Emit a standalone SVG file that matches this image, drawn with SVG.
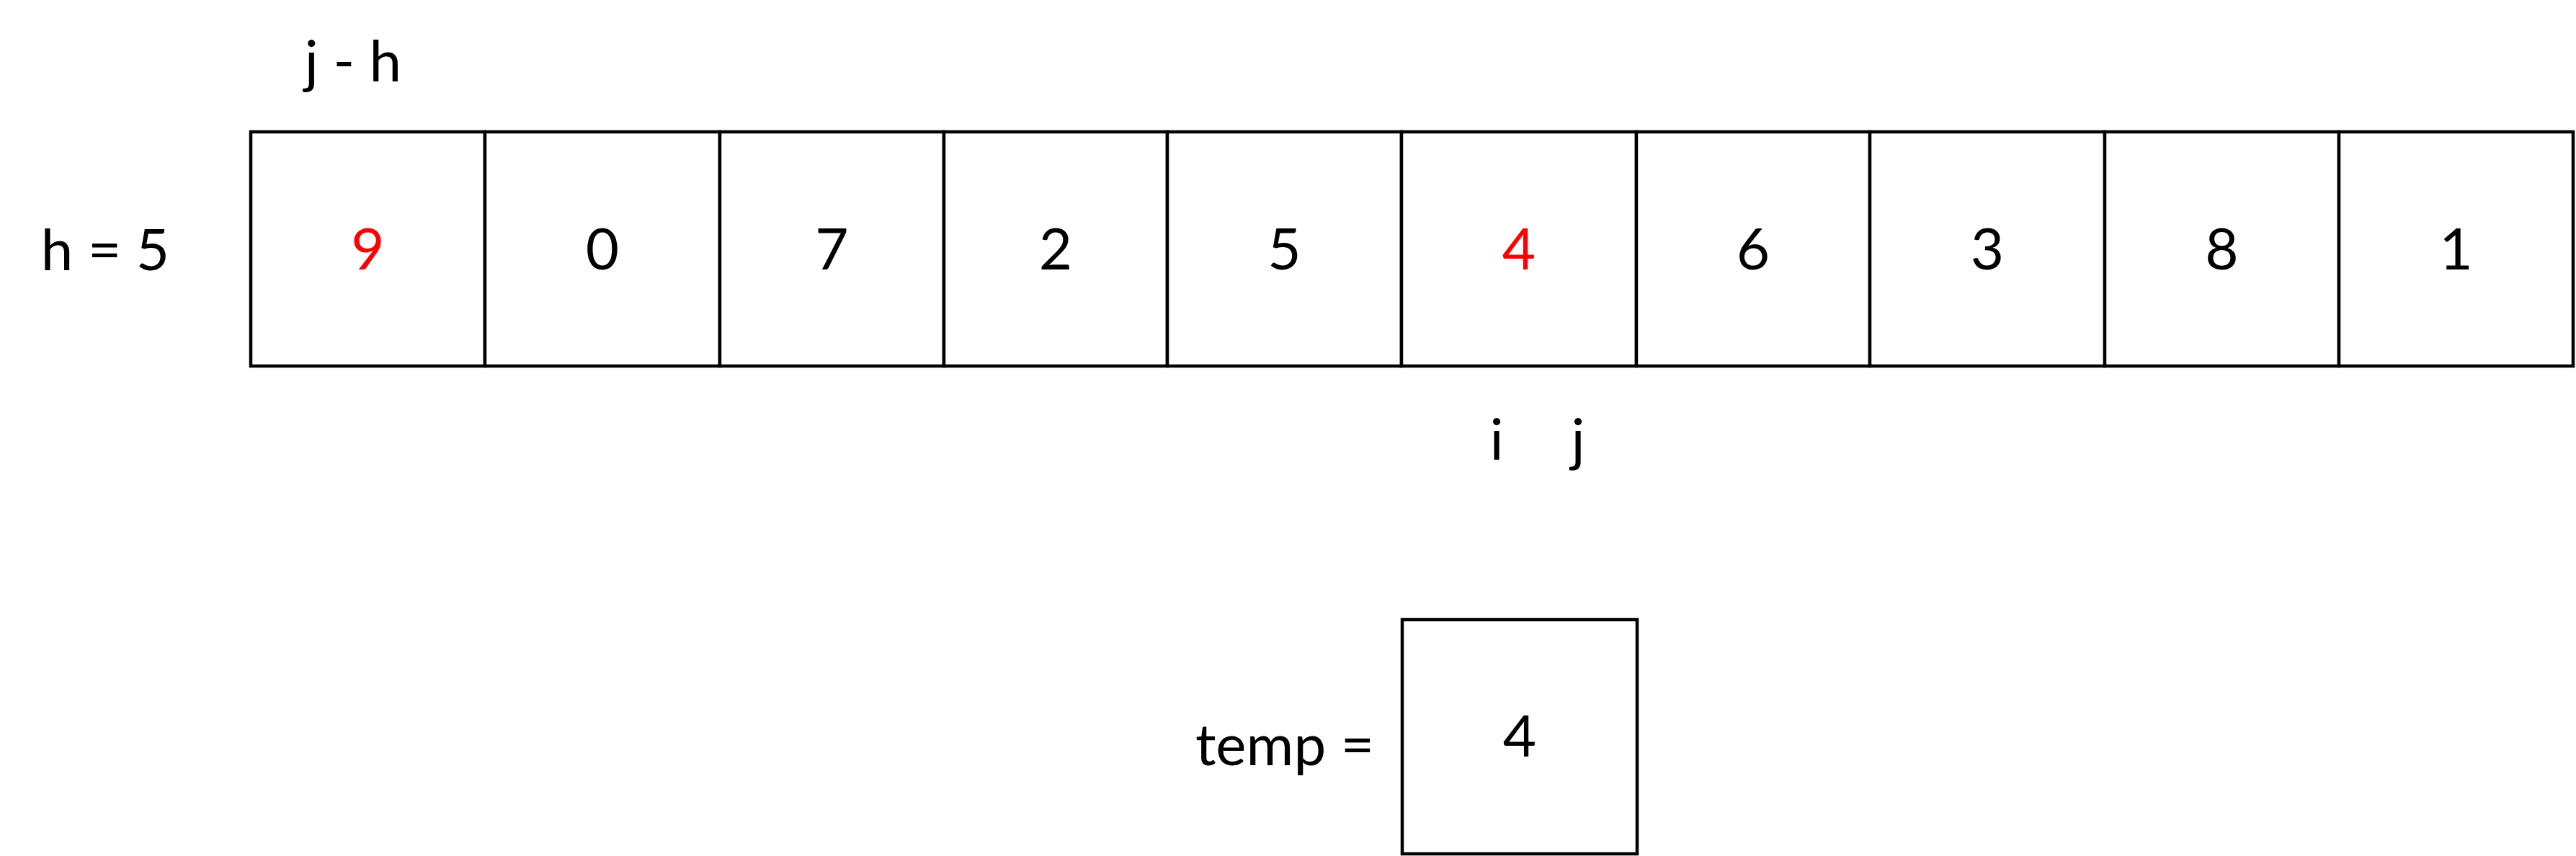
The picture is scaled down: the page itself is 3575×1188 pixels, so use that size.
<svg xmlns="http://www.w3.org/2000/svg" width="3575" height="1188" viewBox="0 0 3575 1188">
<style>
.cell{fill:#fff;stroke:#000;stroke-width:4.5}
.t{font-family:Lato,"Open Sans","Liberation Sans",sans-serif;font-size:80px;fill:#000}
.c{text-anchor:middle}
.red{fill:#ff0000}
</style>
<rect width="3575" height="1188" fill="#fff"/>
<g id="labels">
<text id="lbl-h" class="t c" x="146" y="375">h = 5</text>
<text id="lbl-jh" class="t c" x="490" y="113">j - h</text>
<text id="lbl-i" class="t c" x="2077" y="638">i</text>
<text id="lbl-j" class="t c" x="2190" y="638">j</text>
<text id="lbl-temp" class="t c" x="1783" y="1062">temp =</text>
</g>
<g id="array">
<g id="cell0"><rect class="cell" x="348" y="183" width="325" height="325"/><text class="t c red" x="510.5" y="374">9</text></g>
<g id="cell1"><rect class="cell" x="673" y="183" width="326" height="325"/><text class="t c" x="836" y="374">0</text></g>
<g id="cell2"><rect class="cell" x="999" y="183" width="311" height="325"/><text class="t c" x="1154.5" y="374">7</text></g>
<g id="cell3"><rect class="cell" x="1310" y="183" width="310" height="325"/><text class="t c" x="1465" y="374">2</text></g>
<g id="cell4"><rect class="cell" x="1620" y="183" width="325" height="325"/><text class="t c" x="1782.5" y="374">5</text></g>
<g id="cell5"><rect class="cell" x="1945" y="183" width="326" height="325"/><text class="t c red" x="2108" y="374">4</text></g>
<g id="cell6"><rect class="cell" x="2271" y="183" width="324" height="325"/><text class="t c" x="2433" y="374">6</text></g>
<g id="cell7"><rect class="cell" x="2595" y="183" width="326" height="325"/><text class="t c" x="2758" y="374">3</text></g>
<g id="cell8"><rect class="cell" x="2921" y="183" width="325" height="325"/><text class="t c" x="3083.5" y="374">8</text></g>
<g id="cell9"><rect class="cell" x="3246" y="183" width="325" height="325"/><text class="t c" x="3408.5" y="374">1</text></g>
</g>
<g id="temp"><rect class="cell" x="1946" y="860" width="326" height="325"/><text class="t c" x="2109" y="1050">4</text></g>
<g id="connectors"></g>
</svg>
